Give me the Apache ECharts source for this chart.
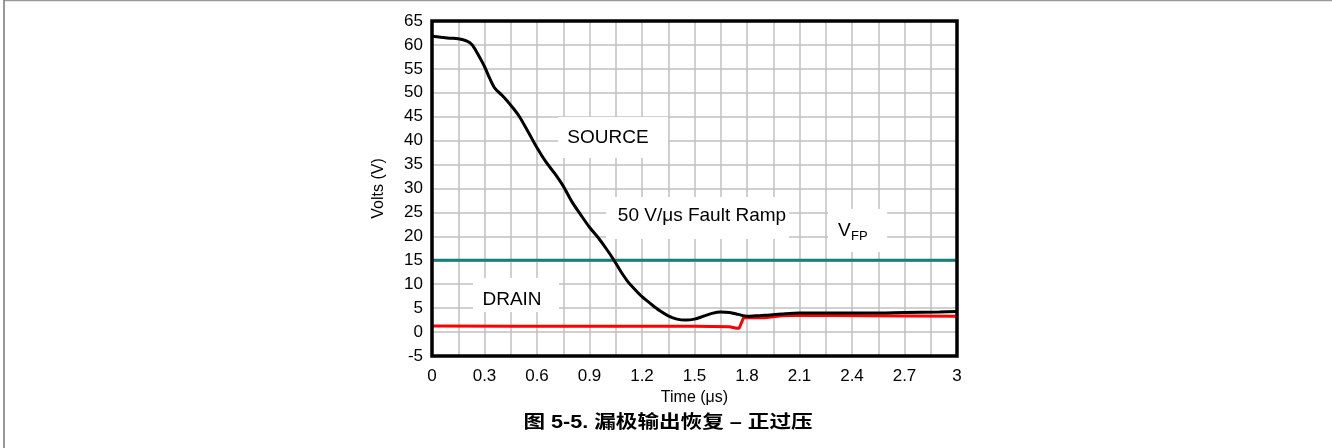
<!DOCTYPE html>
<html>
<head>
<meta charset="utf-8">
<script src="https://cdn.jsdelivr.net/npm/echarts@6/dist/echarts.min.js"></script>
<style>
html,body{margin:0;padding:0;background:#fff;}
#c{width:1332px;height:448px;}
</style>
</head>
<body>
<div id="c"></div>
<script>
// ---- data ----
const sourceT = [0,0.05,0.1,0.15,0.2,0.23,0.26,0.3,0.33,0.36,0.4,0.43,0.47,0.5,0.55,0.6,0.65,0.7,0.75,0.8,0.85,0.9,0.95,1.0,1.04,1.08,1.12,1.16,1.2,1.25,1.3,1.35,1.4,1.45,1.5,1.55,1.6,1.65,1.7,1.75,1.8,1.85,1.9,2.0,2.1,2.3,2.5,2.7,2.9,3.0];
const sourceV = [61.8,61.6,61.4,61.3,60.8,60.0,58.2,55.5,53.0,50.9,49.5,48.3,46.5,45.0,41.8,38.5,35.6,33.2,30.5,27.2,24.5,21.9,19.7,17.2,15.0,12.6,10.5,8.9,7.4,5.9,4.5,3.4,2.7,2.5,2.7,3.3,3.9,4.2,4.1,3.7,3.3,3.4,3.5,3.8,4.0,4.0,4.0,4.1,4.2,4.3];
const drainT = [0,0.5,1.0,1.5,1.7,1.74,1.755,1.78,1.9,2.0,2.1,2.5,3.0];
const drainV = [1.25,1.2,1.2,1.2,1.1,0.8,0.8,3.0,3.0,3.4,3.5,3.4,3.3];
const vfpT = [0,3];
const vfpV = [15,15];
const xMin = 0, xMax = 3, xStep = 0.15;
const yMin = -5, yMax = 65, yStep = 5;
const xName = 'Time (μs)';
const yName = 'Volts (V)';
const titleText = '图 5-5. 漏极输出恢复 – 正过压';

const zip = (a,b)=>a.map((v,i)=>[v,b[i]]);
const FONT = '"Liberation Sans", Arial, "Noto Sans CJK SC", sans-serif';

const chart = echarts.init(document.getElementById('c'), null, {renderer:'canvas'});
const G = {left:432, top:21, width:525, height:335};
chart.setOption({
  animation:false,
  backgroundColor:'#fff',
  grid:{left:G.left, top:G.top, width:G.width, height:G.height, show:false},
  xAxis:{type:'value', min:xMin, max:xMax, interval:xStep,
    name:xName, nameLocation:'middle', nameGap:25,
    nameTextStyle:{fontSize:16, color:'#000', fontFamily:FONT},
    axisLine:{show:false}, axisTick:{show:false},
    axisLabel:{fontSize:17, color:'#000', fontFamily:FONT, margin:12,
      formatter:v=>{const k=Math.round(v/xStep); return k%2===0 ? String(+(k*xStep).toFixed(2)) : '';}},
    splitLine:{show:true, lineStyle:{color:'#c0c0c0', width:1.5}}},
  yAxis:{type:'value', min:yMin, max:yMax, interval:yStep,
    name:yName, nameLocation:'middle', nameGap:45,
    nameTextStyle:{fontSize:16, color:'#000', fontFamily:FONT},
    axisLine:{show:false}, axisTick:{show:false},
    axisLabel:{fontSize:17, color:'#000', fontFamily:FONT, margin:9},
    splitLine:{show:true, lineStyle:{color:'#c0c0c0', width:1.5}}},
  series:[
    {type:'line', name:'VFP', data:zip(vfpT,vfpV), showSymbol:false, lineStyle:{color:'#13807a', width:3}, z:3},
    {type:'line', name:'DRAIN', data:zip(drainT,drainV), showSymbol:false, lineStyle:{color:'#ff0000', width:3}, z:4},
    {type:'line', name:'SOURCE', data:zip(sourceT,sourceV), showSymbol:false, smooth:0.3, lineStyle:{color:'#000', width:3}, z:5}
  ],
  graphic:[
    {type:'line', shape:{x1:4,y1:0.5,x2:1332,y2:0.5}, style:{stroke:'#999', lineWidth:1.5}},
    {type:'line', shape:{x1:4,y1:0,x2:4,y2:448}, style:{stroke:'#777', lineWidth:1.5}},
    {type:'rect', shape:{x:G.left,y:G.top,width:G.width,height:G.height}, style:{fill:null, stroke:'#000', lineWidth:3.5}, z:100},
    {type:'rect', shape:{x:558,y:117,width:110,height:41}, style:{fill:'#fff'}, z:1},
    {type:'text', x:608, y:138, style:{text:'SOURCE', font:'19px '+FONT, fill:'#000', textAlign:'center', textVerticalAlign:'middle'}, z:2},
    {type:'rect', shape:{x:606,y:197,width:183,height:42}, style:{fill:'#fff'}, z:1},
    {type:'text', x:702, y:216, style:{text:'50 V/μs Fault Ramp', font:'19px '+FONT, fill:'#000', textAlign:'center', textVerticalAlign:'middle'}, z:2},
    {type:'rect', shape:{x:828,y:209,width:59,height:43}, style:{fill:'#fff'}, z:1},
    {type:'text', x:838, y:231, style:{text:'V', font:'19px '+FONT, fill:'#000', textAlign:'left', textVerticalAlign:'middle'}, z:2},
    {type:'text', x:851, y:236, style:{text:'FP', font:'13px '+FONT, fill:'#000', textAlign:'left', textVerticalAlign:'middle'}, z:2},
    {type:'rect', shape:{x:473,y:278,width:86,height:34}, style:{fill:'#fff'}, z:1},
    {type:'text', x:512, y:300, style:{text:'DRAIN', font:'19px '+FONT, fill:'#000', textAlign:'center', textVerticalAlign:'middle'}, z:2},
    {type:'text', x:668, y:423, scaleX:1.2, originX:0, originY:0, style:{text:titleText, font:'bold 18px '+FONT, fill:'#000', textAlign:'center', textVerticalAlign:'middle'}, z:2}
  ]
});
</script>
</body>
</html>
